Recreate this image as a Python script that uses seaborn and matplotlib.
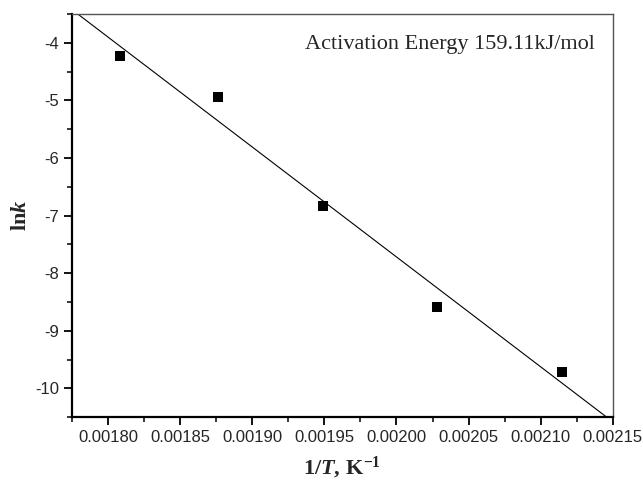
import numpy as np
import matplotlib
matplotlib.use("Agg")
import matplotlib.pyplot as plt
import seaborn as sns
import pandas as pd
from matplotlib.ticker import MultipleLocator, FormatStrFormatter

# Arrhenius data
inv_T = [0.001808, 0.001876, 0.001949, 0.002028, 0.002115]
ln_k = [-4.23, -4.94, -6.84, -8.59, -9.72]
note = "Activation Energy 159.11kJ/mol"

sns.set_style("ticks")
plt.rcParams['font.family'] = ['Liberation Sans', 'DejaVu Sans']
plt.rcParams['mathtext.fontset'] = 'custom'
plt.rcParams['mathtext.rm'] = 'Liberation Serif'
plt.rcParams['mathtext.it'] = 'Liberation Serif:italic'
plt.rcParams['mathtext.bf'] = 'Liberation Serif:bold'
plt.rcParams['mathtext.bfit'] = 'Liberation Serif:italic:bold'

df = pd.DataFrame({'x': inv_T, 'y': ln_k})

fig = plt.figure(figsize=(6.43, 4.8), dpi=100)
ax = fig.add_axes([0.112, 0.131, 0.841, 0.840])

# linear fit line across the whole axis
slope, icpt = np.polyfit(inv_T, ln_k, 1)
xl = np.array([0.00177, 0.00216])
sns.lineplot(x=xl, y=slope * xl + icpt, ax=ax, color='black', linewidth=0.8)

sns.scatterplot(data=df, x='x', y='y', ax=ax, marker='s', s=45,
                color='black', edgecolor='black', linewidth=0, zorder=3)

ax.set_xlim(0.001775, 0.00215)
ax.set_ylim(-10.5, -3.5)
ax.xaxis.set_major_locator(MultipleLocator(0.00005))
ax.xaxis.set_minor_locator(MultipleLocator(0.000025))
ax.xaxis.set_major_formatter(FormatStrFormatter('%.5f'))
ax.yaxis.set_major_locator(MultipleLocator(1))
ax.yaxis.set_minor_locator(MultipleLocator(0.5))
ax.yaxis.set_major_formatter(FormatStrFormatter('%d'))

ax.tick_params(which='major', direction='out', length=6, width=1.3,
               labelsize=12, color='black', top=False, right=False)
ax.tick_params(which='minor', direction='out', length=3.5, width=1.1,
               color='black', top=False, right=False)
for side in ['left', 'bottom']:
    ax.spines[side].set_linewidth(1.6)
    ax.spines[side].set_color('black')
for side in ['top', 'right']:
    ax.spines[side].set_visible(True)
    ax.spines[side].set_linewidth(1.0)
    ax.spines[side].set_color('#555555')

ax.set_xlabel(r'$\mathbf{1/}\mathbfit{T}\mathbf{,}$ $\mathbf{K^{-1}}$',
              fontsize=16, labelpad=7)
ax.set_ylabel(r'$\mathbf{ln}\mathbfit{k}$', fontsize=16, labelpad=3)

ax.text(0.967, 0.924, note, transform=ax.transAxes, ha='right', va='center',
        fontsize=16, family='Liberation Serif')

fig.savefig('out.png', dpi=100)
